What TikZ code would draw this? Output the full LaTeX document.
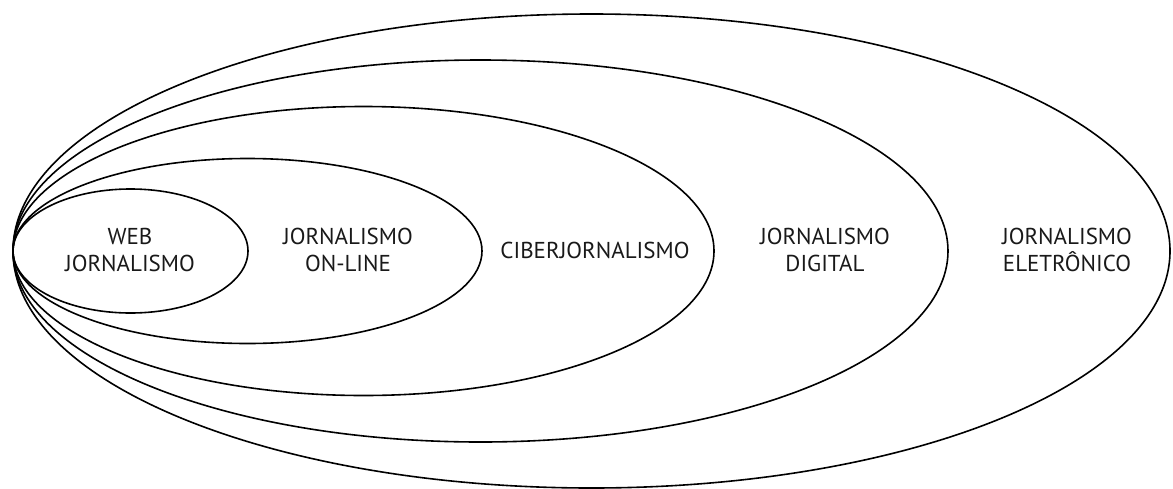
\documentclass[tikz,border=0pt]{standalone}
\usepackage{fontspec}
\setmainfont{PT Sans}
\begin{document}
\begin{tikzpicture}[x=1pt,y=-1pt,
  ring/.style={draw=black,line width=1.6pt},
  lbl/.style={align=center,font=\fontsize{23}{27}\selectfont,inner sep=0pt,text=black!90}]
\useasboundingbox (0,0) rectangle (1173,488);
\draw[ring] (130.5,251) ellipse [x radius=117.5,y radius=62];
\draw[ring] (247.5,251) ellipse [x radius=234.5,y radius=92.5];
\draw[ring] (363.5,251) ellipse [x radius=350.5,y radius=144.5];
\draw[ring] (480.5,251) ellipse [x radius=467.5,y radius=191];
\draw[ring] (591.5,251) ellipse [x radius=578.5,y radius=237];
\node[lbl] (web) at (130,250) {WEB\\JORNALISMO};
\node[lbl] (online) at (348,250) {JORNALISMO\\ON-LINE};
\node[lbl] (ciber) at (595,250) {CIBERJORNALISMO};
\node[lbl] (digital) at (825,250) {JORNALISMO\\DIGITAL};
\node[lbl] (eletro) at (1067,250) {JORNALISMO\\ELETRÔNICO};
\end{tikzpicture}
\end{document}
